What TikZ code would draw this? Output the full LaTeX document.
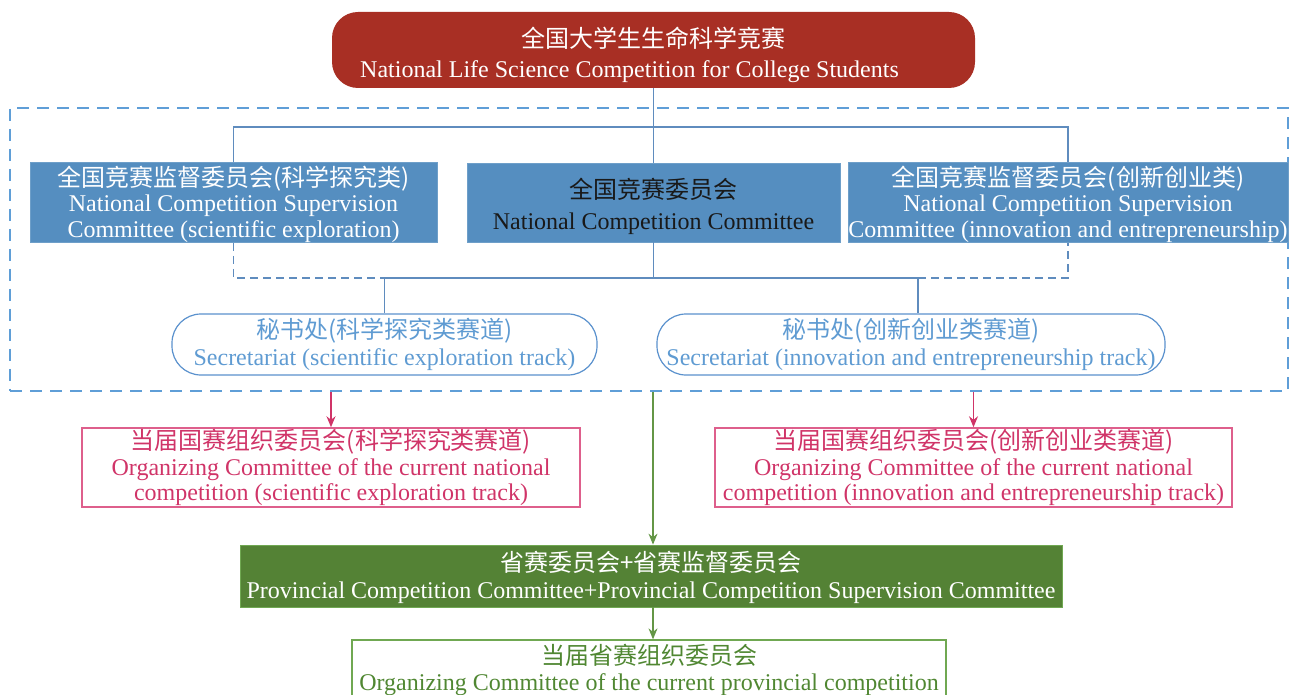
\documentclass[tikz,border=0pt]{standalone}
\usepackage{fontspec}
\setmainfont{Liberation Serif}
\newfontfamily\zhfont{Noto Sans CJK SC}
\usetikzlibrary{arrows.meta}
\definecolor{topred}{RGB}{168,47,36}
\definecolor{boxblue}{RGB}{85,142,192}
\definecolor{frameblue}{RGB}{95,158,215}
\definecolor{linkblue}{RGB}{95,140,190}
\definecolor{secblue}{RGB}{90,145,205}
\definecolor{sectext}{RGB}{95,155,210}
\definecolor{pinkc}{RGB}{208,52,104}
\definecolor{pinkline}{RGB}{222,95,140}
\definecolor{greenfill}{RGB}{84,130,53}
\definecolor{greenline}{RGB}{112,168,82}
\definecolor{greentext}{RGB}{80,135,50}
\definecolor{greenarrow}{RGB}{100,150,70}
\begin{document}
\begin{tikzpicture}[x=1pt,y=-1pt,
  every node/.style={inner sep=0pt, align=center, font=\fontsize{24}{25.5}\selectfont},
  topbox/.style={fill=topred, text=white, rounded corners=26pt, minimum width=643pt, minimum height=76pt},
  bluebox/.style={fill=boxblue, draw=boxblue!85!white, line width=0.8pt, text=white, minimum height=79pt},
  secbox/.style={draw=secblue, line width=1.2pt, text=sectext, rounded corners=29pt, minimum height=61pt},
  pinkbox/.style={draw=pinkline, line width=1.5pt, text=pinkc, minimum height=79pt},
  greenbox/.style={fill=greenfill, draw=greenline, line width=0.8pt, text=white, minimum height=62pt},
  lastbox/.style={draw=greenline, line width=1.3pt, text=greentext, minimum height=60pt},
  framestyle/.style={draw=frameblue, line width=1.6pt, dash pattern=on 12pt off 8pt, minimum width=1278pt, minimum height=283pt},
  link/.style={draw=linkblue, line width=1.2pt},
  dlink/.style={link, dash pattern=on 8pt off 5pt},
  pinkarrow/.style={draw=pinkc, line width=1.3pt, -{Stealth[length=11pt,width=9pt]}},
  greenarr/.style={draw=greenarrow, line width=1.3pt, -{Stealth[length=11pt,width=9pt]}}
]
\useasboundingbox (0,0) rectangle (1294,695);

\node[framestyle] (frame) at (649,249.5) {};

\node[topbox] (top) at (653.5,50) {{\rule{0pt}{30pt}\zhfont 全国大学生生命科学竞赛}\\[5pt]National Life Science Competition for College Students\hspace*{48pt}};

\node[bluebox, minimum width=407pt] (left) at (233.5,202.5) {{\rule{0pt}{24pt}\zhfont 全国竞赛监督委员会(科学探究类)}\\National Competition Supervision\\Committee (scientific exploration)};
\node[bluebox, minimum width=373pt, text=black!90] (mid) at (653.5,202.5) {{\rule{0pt}{28pt}\zhfont 全国竞赛委员会}\\[6pt]National Competition Committee};
\node[bluebox, minimum width=440pt] (right) at (1068,202.5) {{\rule{0pt}{24pt}\zhfont 全国竞赛监督委员会(创新创业类)}\\National Competition Supervision\\Committee (innovation and entrepreneurship)};

\node[secbox, minimum width=425pt] (sec1) at (384.5,344.5) {{\zhfont 秘书处(科学探究类赛道)}\\[1.5pt]Secretariat (scientific exploration track)};
\node[secbox, minimum width=508pt] (sec2) at (911,344.5) {{\zhfont 秘书处(创新创业类赛道)}\\[1.5pt]Secretariat (innovation and entrepreneurship track)};

\node[pinkbox, minimum width=498pt] (orgL) at (331,467.5) {{\zhfont 当届国赛组织委员会(科学探究类赛道)}\\Organizing Committee of the current national\\competition (scientific exploration track)};
\node[pinkbox, minimum width=517pt] (orgR) at (973.5,467.5) {{\zhfont 当届国赛组织委员会(创新创业类赛道)}\\Organizing Committee of the current national\\competition (innovation and entrepreneurship track)};

\node[greenbox, minimum width=822pt] (prov) at (651,576) {{\rule{0pt}{24pt}\zhfont 省赛委员会+省赛监督委员会}\\[1.5pt]Provincial Competition Committee+Provincial Competition Supervision Committee};

\node[lastbox, minimum width=594pt] (porg) at (649,670) {{\zhfont 当届省赛组织委员会}\\Organizing Committee of the current provincial competition};

% connectors
\coordinate (bus1) at (653,127);
\coordinate (bus2) at (653,278);
\coordinate (j2) at (918,278);
\draw[link] (top.south) -- (mid.north);
\draw[link] (left.north) -- (left.north |- bus1) -- (right.north |- bus1) -- (right.north);
\draw[dlink] (left.south) -- (left.south |- bus2) -- (sec1.north |- bus2);
\draw[link] (sec1.north |- bus2) -- (j2);
\draw[dlink] (j2) -- (right.south |- bus2) -- (right.south);
\draw[link] (mid.south) -- (mid.south |- bus2);
\draw[link] (sec1.north |- bus2) -- (sec1.north);
\draw[link] (j2) -- (j2 |- sec2.north);

\draw[pinkarrow] (frame.south -| orgL.north) -- (orgL.north);
\draw[pinkarrow] (frame.south -| orgR.north) -- (orgR.north);
\draw[greenarr] (frame.south -| bus2) -- (bus2 |- prov.north);
\draw[greenarr] (bus2 |- prov.south) -- (bus2 |- porg.north);
\end{tikzpicture}
\end{document}
